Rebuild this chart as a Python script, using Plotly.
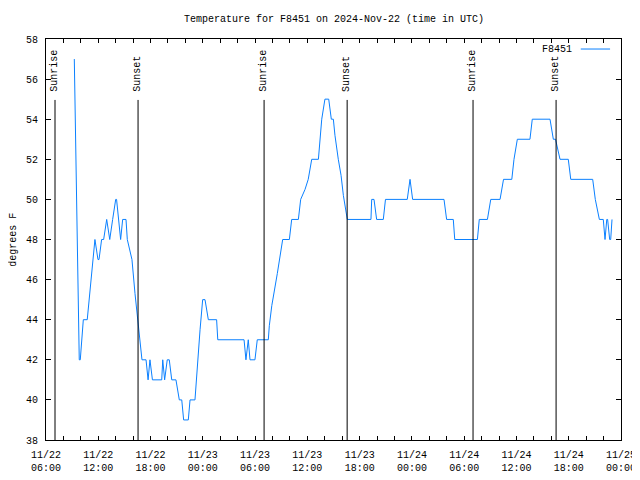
import plotly.graph_objects as go

# ---- data ----
times_d1 = ["09:15", "09:49", "09:56", "10:17", "10:44", "11:37", "11:58", "12:05", "12:23", "12:37",
            "12:58", "13:07", "13:19", "13:39", "14:00", "14:06", "14:21", "14:34", "14:48", "15:11",
            "15:20", "15:52", "16:13", "16:34", "17:01", "17:29", "17:43", "17:56", "18:13", "19:17",
            "19:24", "19:37", "19:55", "20:09", "20:26", "20:55", "21:18", "21:35", "21:48", "22:20",
            "22:32", "23:06", "23:20", "23:41", "23:59"]
temps_d1 = [57, 42, 42, 44, 44, 48, 47, 47, 48, 48,
            49, 48.5, 48, 49, 50, 50, 49, 48, 49, 49,
            48, 47, 45.3, 43.8, 42, 42, 41, 42, 41, 41,
            42, 41, 42, 42, 41, 41, 40, 40, 39, 39,
            40, 40, 41.5, 43.5, 45]

times_d2 = ["00:15", "00:38", "01:35", "01:43", "04:44", "04:57", "05:13", "05:25", "05:59", "06:15",
            "07:31", "07:38", "07:55", "08:33", "09:10", "09:56", "10:12", "10:58", "11:14", "11:44",
            "12:06", "12:30", "13:16", "13:39", "14:01", "14:27", "14:45", "14:59", "15:10", "15:33",
            "15:52", "16:08", "16:35", "19:18", "19:23", "19:39", "19:57", "20:43", "20:58", "23:28",
            "23:47"]
temps_d2 = [45, 44, 44, 43, 43, 42, 43, 42, 42, 43,
            43, 43.7, 44.7, 46.3, 48, 48, 49, 49, 50, 50.5,
            51, 52, 52, 54, 55, 55, 54, 54, 53.2, 52,
            51.2, 50.2, 49, 49, 50, 50, 49, 49, 50, 50,
            51]

times_d3 = ["00:05", "03:41", "03:59", "04:45", "04:55", "07:31", "07:44", "08:40", "09:03", "10:07",
            "10:31", "11:28", "11:43", "12:06", "13:33", "13:49", "15:51", "16:14", "16:29", "17:00",
            "17:57", "18:14", "20:45", "21:03", "21:31", "21:58", "22:10", "22:22", "22:28", "22:42",
            "22:49", "22:58"]
temps_d3 = [50, 50, 49, 49, 48, 48, 49, 49, 50, 50,
            51, 51, 52, 53, 53, 54, 54, 53, 53, 52,
            52, 51, 51, 50, 49, 49, 48, 49, 49, 48,
            48, 49]

sun_times = ["2024-11-22 07:02", "2024-11-22 16:34", "2024-11-23 07:02",
             "2024-11-23 16:34", "2024-11-24 07:01", "2024-11-24 16:33"]
sun_labels = ["Sunrise", "Sunset", "Sunrise", "Sunset", "Sunrise", "Sunset"]

tick_vals = ["2024-11-22 06:00", "2024-11-22 12:00", "2024-11-22 18:00", "2024-11-23 00:00",
             "2024-11-23 06:00", "2024-11-23 12:00", "2024-11-23 18:00", "2024-11-24 00:00",
             "2024-11-24 06:00", "2024-11-24 12:00", "2024-11-24 18:00", "2024-11-25 00:00"]
tick_text = ["11/22<br>06:00", "11/22<br>12:00", "11/22<br>18:00", "11/23<br>00:00",
             "11/23<br>06:00", "11/23<br>12:00", "11/23<br>18:00", "11/24<br>00:00",
             "11/24<br>06:00", "11/24<br>12:00", "11/24<br>18:00", "11/25<br>00:00"]

series_name = "F8451"
title_text = "Temperature for F8451 on 2024-Nov-22 (time in UTC)"

times = ([f"2024-11-22 {t}" for t in times_d1] +
         [f"2024-11-23 {t}" for t in times_d2] +
         [f"2024-11-24 {t}" for t in times_d3])
temps = temps_d1 + temps_d2 + temps_d3

FONT = "Liberation Mono"
BLUE = "#0a80ff"

fig = go.Figure()
fig.add_trace(go.Scatter(x=times, y=temps, mode="lines", name=series_name,
                         line=dict(color=BLUE, width=1), showlegend=False))

shapes = []
annotations = []
TOP_LINE = 0.848
for t, lab in zip(sun_times, sun_labels):
    shapes.append(dict(type="line", xref="x", yref="paper", x0=t, x1=t, y0=0, y1=TOP_LINE,
                       line=dict(color="black", width=1)))
    annotations.append(dict(x=t, y=0.866, xref="x", yref="paper", text=lab, textangle=-90,
                            showarrow=False, xanchor="center", yanchor="bottom", borderpad=0,
                            font=dict(family=FONT, size=10, color="black")))

# legend (gnuplot style: text then line sample)
annotations.append(dict(x=0.919, y=0.975, xref="paper", yref="paper", text=series_name,
                        showarrow=False, xanchor="right", yanchor="middle",
                        font=dict(family=FONT, size=10, color="black")))
shapes.append(dict(type="line", xref="paper", yref="paper", x0=0.930, x1=0.981, y0=0.975, y1=0.975,
                   line=dict(color=BLUE, width=1)))

annotations.append(dict(x=-0.057, y=0.5, xref="paper", yref="paper", text="degrees F",
                        textangle=-90, showarrow=False, xanchor="center", yanchor="middle",
                        borderpad=0, font=dict(family=FONT, size=10, color="black")))

# title as annotation above plot
annotations.append(dict(x=0.5, y=1.0, xref="paper", yref="paper", yshift=20, text=title_text,
                        showarrow=False, xanchor="center", yanchor="middle",
                        font=dict(family=FONT, size=10, color="black")))

# page body adds an 8px offset; size the figure so the plot area lands on 46..621 x 39..440
fig.update_layout(
    width=632, height=472,
    margin=dict(l=38, r=19, t=31, b=40),
    paper_bgcolor="white", plot_bgcolor="white",
    font=dict(family=FONT, size=10, color="black"),
    shapes=shapes, annotations=annotations, showlegend=False,
)
fig.update_xaxes(
    type="date", range=["2024-11-22 06:00", "2024-11-25 00:00"],
    tickmode="array", tickvals=tick_vals, ticktext=tick_text,
    ticks="inside", ticklen=4, tickcolor="black", tickwidth=1,
    minor=dict(dtick=2 * 3600 * 1000, tick0="2024-11-22 06:00", ticks="inside", ticklen=4,
               tickcolor="black", tickwidth=1),
    showline=True, linecolor="black", linewidth=1, mirror="allticks",
    showgrid=False, zeroline=False, ticklabelstandoff=5, automargin=False,
)
fig.update_yaxes(
    range=[38, 58], dtick=2, tick0=38,
    ticks="inside", ticklen=5, tickcolor="black", tickwidth=1,
    showline=True, linecolor="black", linewidth=1, mirror="allticks",
    showgrid=False, zeroline=False, ticklabelstandoff=5, automargin=False,
)

fig.write_html("out.html")
